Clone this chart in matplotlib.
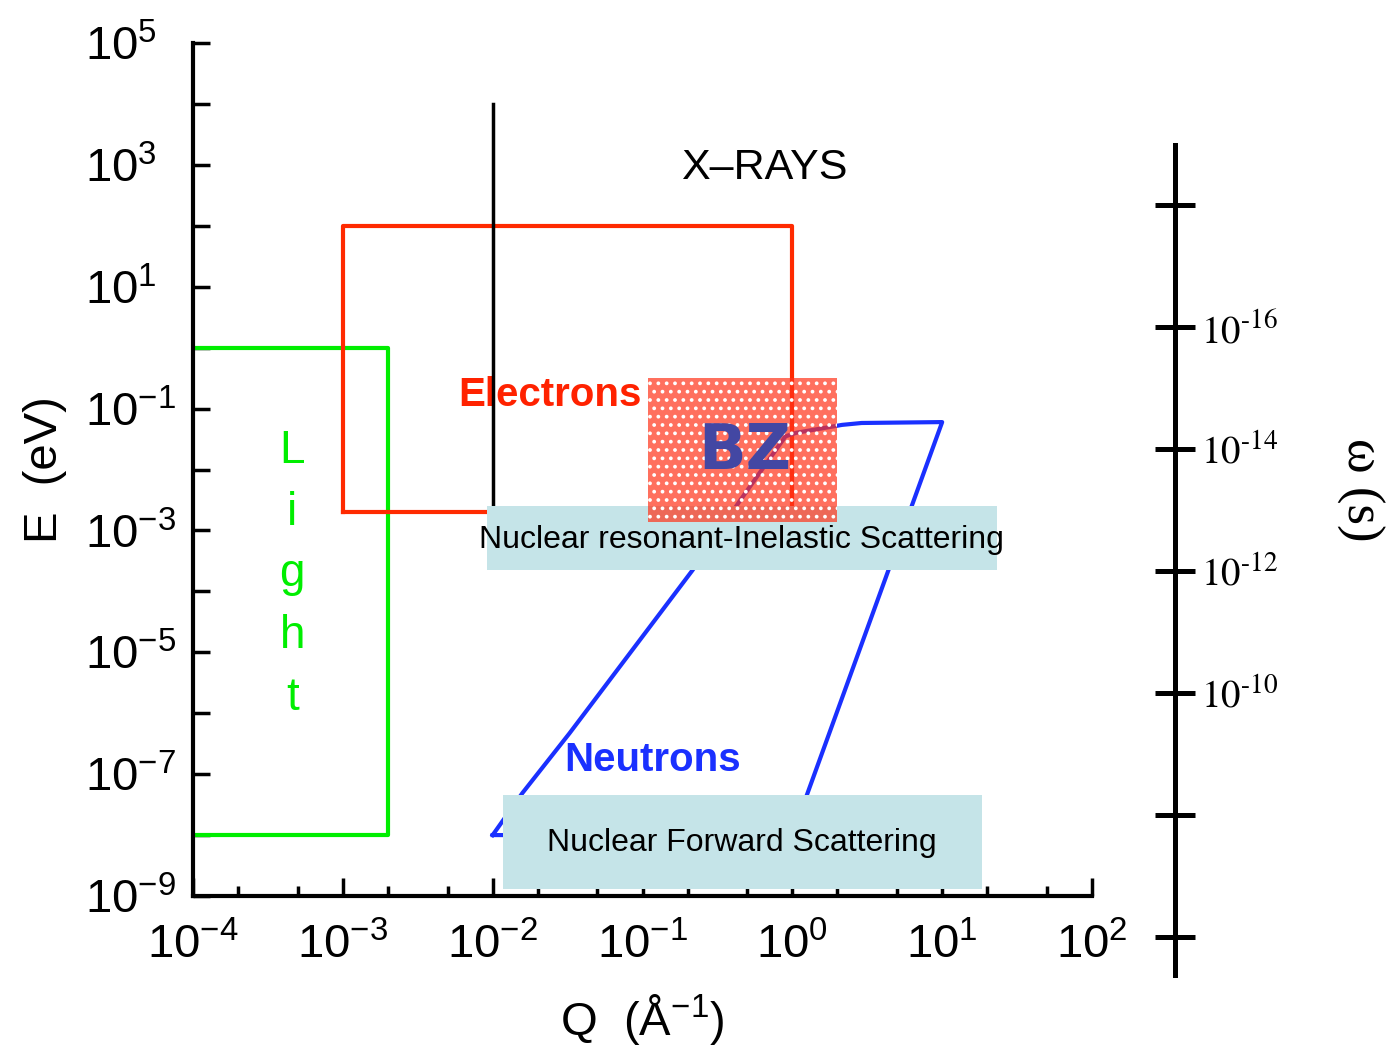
import numpy as np
import matplotlib
matplotlib.use('Agg')
import matplotlib.pyplot as plt
from matplotlib import font_manager
from matplotlib.patches import Rectangle
from matplotlib.ticker import FixedLocator, FixedFormatter, NullLocator, NullFormatter

# narrow sans for the plot lettering, if there is one
names = {f.name for f in font_manager.fontManager.ttflist}
NARROW = 'Liberation Sans Narrow' if 'Liberation Sans Narrow' in names else 'Liberation Sans'

plt.rcParams['font.family'] = [NARROW, 'DejaVu Sans']
plt.rcParams['mathtext.fontset'] = 'stix'
plt.rcParams['hatch.linewidth'] = 1.5

# --- probe ranges in Q (1/A) and E (eV) ---
light_Q = [1e-4, 2e-3, 2e-3, 1e-4]
light_E = [1.0, 1.0, 1e-8, 1e-8]

elec_Q = [1e-3, 1.0, 1.0, 1e-3, 1e-3]
elec_E = [2e-3, 2e-3, 1e2, 1e2, 2e-3]

xray_Q = [1e-2, 1e-2]
xray_E = [1e4, 2e-3]

neut_Q = [0.01, 0.0158, 0.0326, 0.215, 0.444, 0.9, 1.06, 2.15, 2.9, 10.0, 1.0, 0.01]
neut_E = [1e-8, 4.9e-8, 4.7e-7, 2.2e-4, 3.0e-3, 3.5e-2, 4.0e-2, 5.4e-2, 5.8e-2, 6.0e-2, 1e-8, 1e-8]

bz_Q = [0.108, 2.0]
bz_E = [1.4e-3, 0.316]

nis_Q = [0.0091, 23.3]
nis_E = [2.24e-4, 2.5e-3]

nfs_Q = [0.0117, 18.5]
nfs_E = [1.3e-9, 4.5e-8]

# ticks
q_exp = np.arange(-4, 3)
q_ticks = 10.0 ** q_exp
q_labels = [r'$\mathregular{10^{%d}}$' % k for k in q_exp]
q_minor = [m * 10.0 ** k for k in range(-4, 2) for m in (2, 5)]

e_exp = np.arange(-9, 6)
e_ticks = 10.0 ** e_exp
e_labels = [r'$\mathregular{10^{%d}}$' % k if k % 2 else '' for k in e_exp]

t_exp = np.arange(-18, -5, 2)
t_ticks = 10.0 ** t_exp
t_labels = ['$\\mathrm{10^{\u2010%d}}$' % -k if -16 <= k <= -10 else '' for k in t_exp]

W, H = 1392, 1049
fig = plt.figure(figsize=(W / 100, H / 100), dpi=100)
ax = fig.add_axes([193 / W, 1 - 896 / H, 899 / W, 853 / H])
ax.set_xscale('log')
ax.set_yscale('log')
ax.set_xlim(1e-4, 1e2)
ax.set_ylim(1e-9, 1e5)
for s in ['top', 'right']:
    ax.spines[s].set_visible(False)
for s in ['left', 'bottom']:
    ax.spines[s].set_linewidth(3)

ax.xaxis.set_major_locator(FixedLocator(q_ticks))
ax.xaxis.set_major_formatter(FixedFormatter(q_labels))
ax.xaxis.set_minor_locator(FixedLocator(q_minor))
ax.xaxis.set_minor_formatter(NullFormatter())
ax.yaxis.set_major_locator(FixedLocator(e_ticks))
ax.yaxis.set_major_formatter(FixedFormatter(e_labels))
ax.yaxis.set_minor_locator(NullLocator())

ax.tick_params(axis='x', which='major', direction='in', length=13, width=2.5,
               labelsize=34, pad=20)
ax.tick_params(axis='x', which='minor', direction='in', length=7, width=2.5)
ax.tick_params(axis='y', which='major', direction='in', length=12, width=2.5,
               labelsize=34, pad=78)
for lab in ax.get_yticklabels():
    lab.set_horizontalalignment('left')

ax.set_xlabel(r'Q  (Å$\mathregular{^{-1}}$)', fontsize=34, va='center')
ax.xaxis.set_label_coords(0.5, -0.145)
ax.set_ylabel('E  (eV)', fontsize=34, va='center')
ax.yaxis.set_label_coords(-0.165, 0.5)

# probe regions
ax.plot(light_Q, light_E, color='#00ee00', lw=3, zorder=2)
ax.plot(elec_Q, elec_E, color='#ff2a00', lw=3, zorder=2)
ax.plot(xray_Q, xray_E, color='black', lw=2.5, zorder=2)
ax.plot(neut_Q, neut_E, color='#1a30ff', lw=3, zorder=2)

ax.add_patch(Rectangle((nis_Q[0], nis_E[0]), nis_Q[1] - nis_Q[0], nis_E[1] - nis_E[0],
                       facecolor='#c5e4e8', edgecolor='none', zorder=3))
ax.add_patch(Rectangle((nfs_Q[0], nfs_E[0]), nfs_Q[1] - nfs_Q[0], nfs_E[1] - nfs_E[0],
                       facecolor='#c5e4e8', edgecolor='none', zorder=3))
ax.add_patch(Rectangle((bz_Q[0], bz_E[0]), bz_Q[1] - bz_Q[0], bz_E[1] - bz_E[0],
                       facecolor=(1.0, 0.2, 0.1, 0.7), edgecolor='white', lw=0,
                       hatch='..', zorder=4))

ax.text(0.65, 890, 'X\u2013RAYS', fontsize=31, ha='center', va='center')
ax.text(0.024, 0.166, 'Electrons', fontsize=29, weight='bold', color='#ff2200',
        ha='center', va='center', zorder=1)
ax.text(0.117, 1.7e-7, 'Neutrons', fontsize=29, weight='bold', color='#1a30ff',
        ha='center', va='center')
ax.text(4.6e-4, 1.9e-4, 'L\ni\ng\nh\nt', fontsize=33, color='#00ee00',
        ha='center', va='center', linespacing=1.52)
ax.text(0.48, 0.0194, 'BZ', fontsize=45, weight='bold', family='DejaVu Sans',
        color='#4347a3', ha='center', va='center', zorder=5)
ax.text(0.457, 7e-4, 'Nuclear resonant-Inelastic Scattering', fontsize=23,
        family='Liberation Sans', ha='center', va='center', zorder=6)
ax.text(0.457, 7.4e-9, 'Nuclear Forward Scattering', fontsize=23,
        family='Liberation Sans', ha='center', va='center', zorder=6)

# time axis on the right
axr = fig.add_axes([1175 / W - 0.0005, 1 - 975 / H, 0.0005, 830 / H])
axr.set_yscale('log')
axr.set_ylim(10 ** -5.377, 10 ** -18.984)
axr.patch.set_visible(False)
for s in ['top', 'bottom', 'left']:
    axr.spines[s].set_visible(False)
axr.spines['right'].set_linewidth(3.6)
axr.xaxis.set_visible(False)
axr.yaxis.tick_right()
axr.yaxis.set_major_locator(FixedLocator(t_ticks))
axr.yaxis.set_major_formatter(FixedFormatter(t_labels))
axr.yaxis.set_minor_locator(NullLocator())
axr.tick_params(axis='y', which='major', direction='inout', length=29, width=3.6,
                pad=4, labelsize=28)

fig.text(1360 / W, 1 - 490 / H, 'ω (s)', fontsize=38, family='Liberation Serif',
         rotation=-90, ha='center', va='center')

fig.savefig('out.png', dpi=100)
